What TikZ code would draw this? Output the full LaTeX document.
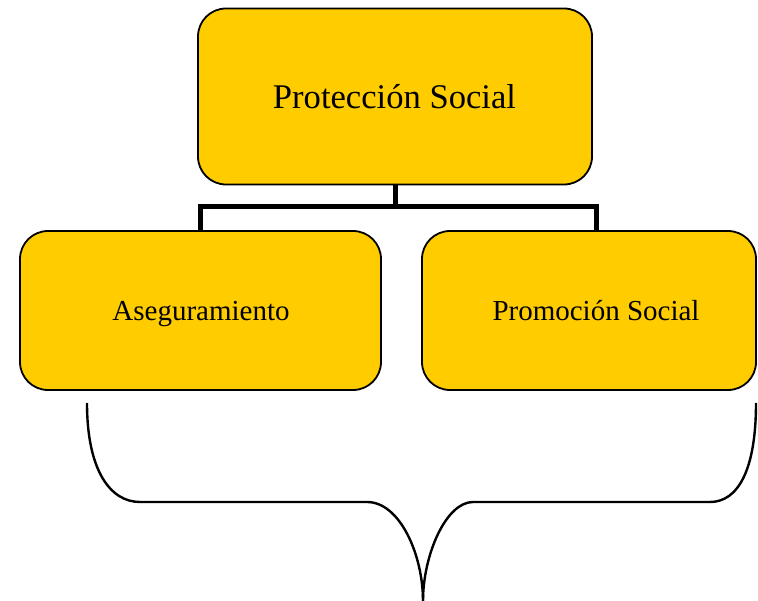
\documentclass[tikz,border=0pt]{standalone}
\usepackage{fontspec}
\setmainfont{Liberation Serif}
\definecolor{boxyellow}{HTML}{FFCC00}
\begin{document}
\begin{tikzpicture}[x=1pt,y=-1pt,
  ybox/.style={draw=black, line width=1.8pt, fill=boxyellow, rounded corners=28pt, rectangle, inner sep=0pt},
  lbl/.style={inner sep=0pt, text=black, anchor=base},
  conn/.style={line width=5pt, line join=miter, line cap=butt},
  brace/.style={line width=2.4pt, line cap=butt}]
\useasboundingbox (0,0) rectangle (758,601);
% boxes
\node[ybox, minimum width=394pt, minimum height=176pt] (top) at (395,96.5) {};
\node[lbl, font=\fontsize{34.6}{40}\selectfont] (toptxt) at (394.5,108.5) {Protección Social};
\node[ybox, minimum width=361pt, minimum height=159pt] (l) at (200.5,310.5) {};
\node[lbl, font=\fontsize{29}{34}\selectfont] (ltxt) at (201,321) {Aseguramiento};
\node[ybox, minimum width=334pt, minimum height=159pt] (r) at (589,310.5) {};
\node[lbl, font=\fontsize{29}{34}\selectfont] (rtxt) at (596,321) {Promoción Social};
% connectors
\coordinate (jl) at (200.7,207);
\coordinate (jr) at (596,207);
\draw[conn] (top.south) -- (top.south |- jl);
\draw[conn] (l.north -| jl) -- (jl) -- (jr) -- (jr |- r.north);
% brace
\coordinate (b1) at (87,403);
\coordinate (b2) at (140,502);
\coordinate (b3) at (367,502);
\coordinate (tip) at (423,601);
\coordinate (b4) at (473,502);
\coordinate (b5) at (710,502);
\coordinate (b6) at (756,403);
\draw[brace] (b1) .. controls (87,470) and (110,502) .. (b2) -- (b3)
  .. controls (400,502) and (423,555) .. (tip);
\draw[brace] (tip) .. controls (423,555) and (446,502) .. (b4) -- (b5)
  .. controls (738,502) and (756,470) .. (b6);
\end{tikzpicture}
\end{document}
